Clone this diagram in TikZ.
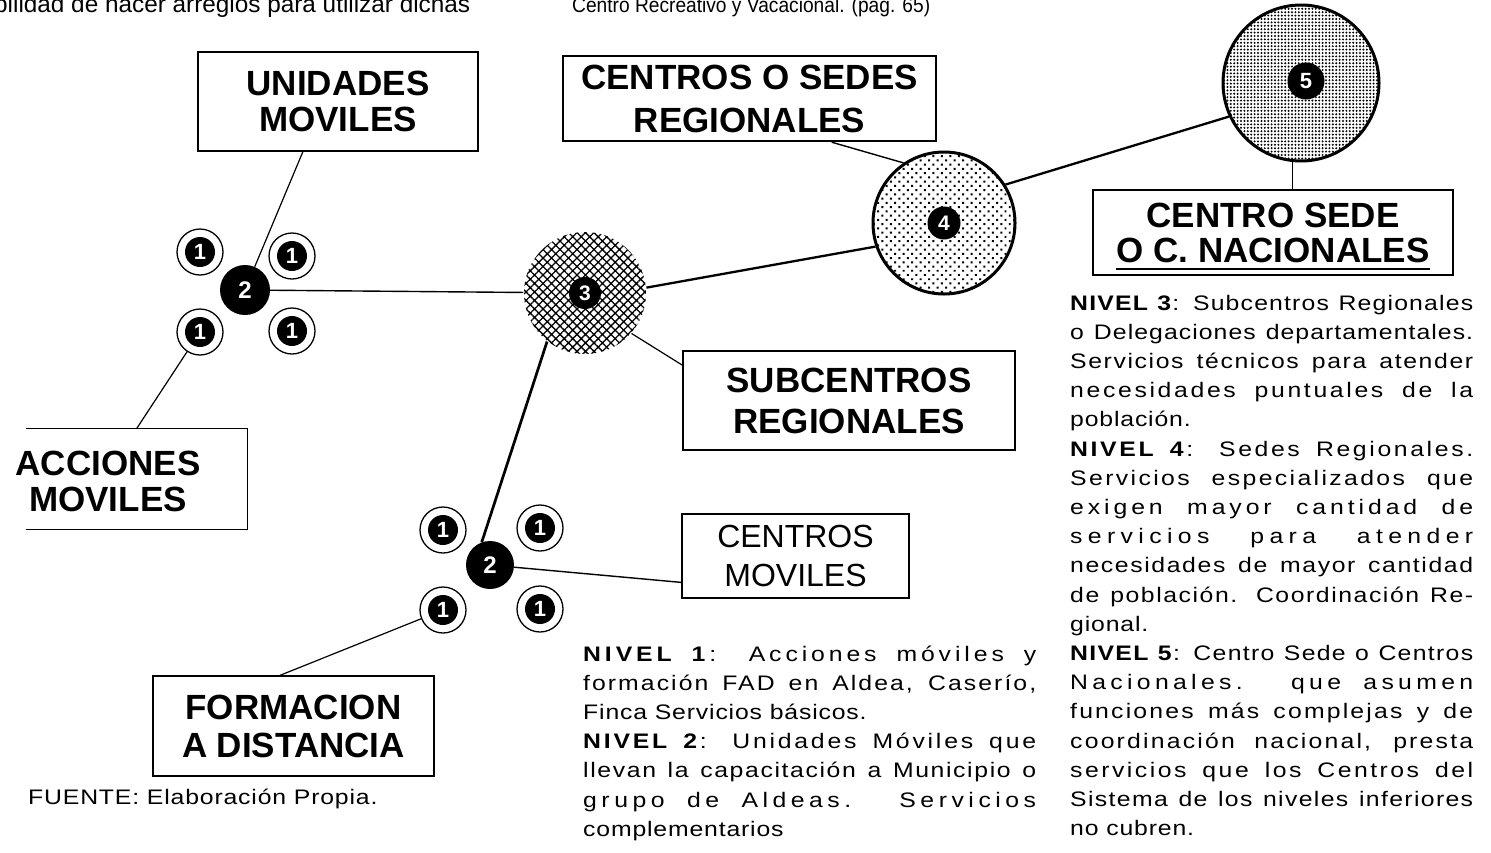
\documentclass[tikz,border=0pt]{standalone}
\usepackage{fontspec}
\setmainfont{Liberation Sans}
\newfontfamily\bodyfont[FakeStretch=1.18,LetterSpace=4]{Liberation Sans}
\usepackage{tikz}
\usetikzlibrary{patterns.meta,backgrounds,calc}

% justified line (letters and spaces both widened), last line of a paragraph, underlined line
\newlength\wone
\newlength\wtwo
\newcommand\jl[1]{{\settowidth{\wone}{#1}%
  \settowidth{\wtwo}{\addfontfeature{LetterSpace=24}#1}%
  \pgfmathsetmacro\lsval{4+0.6*20*(\linewidth-\wone)/(\wtwo-\wone)}%
  \addfontfeature{LetterSpace=\lsval}\makebox[\linewidth][s]{#1}}\par}
\newcommand\el[1]{#1\par}
\newsavebox\ulbox
\newcommand\ulin[1]{\sbox\ulbox{#1}\rlap{\smash{\rule[-8pt]{\wd\ulbox}{2.4pt}}}\usebox\ulbox}

\begin{document}
\begin{tikzpicture}[x=1pt,y=-1pt,
    labelbox/.style={draw, line width=1.3pt, inner sep=0pt, align=center,
      font=\bfseries\fontsize{35}{38}\selectfont},
    ringone/.style={circle, draw, line width=1.3pt, fill=white, minimum size=46pt,
      inner sep=0pt, text=white, font=\bfseries\fontsize{22}{22}\selectfont,
      path picture={\fill[black] (path picture bounding box.center) circle (15pt);}},
    blacknum/.style={circle, fill=black, inner sep=0pt, text=white,
      font=\bfseries\fontsize{24}{24}\selectfont},
    bigcircle/.style={circle, inner sep=0pt, text=white,
      font=\bfseries\fontsize{21}{21}\selectfont},
    thinlink/.style={line width=1.2pt},
    thicklink/.style={line width=2.3pt}]
  % Page frame
  \useasboundingbox (0,0) rectangle (1491,852);
  \clip (0,0) rectangle (1491,852);
  % Text cut off at the top of the page
  \node[anchor=base west, inner sep=0pt, font=\fontsize{24}{26}\selectfont] (prevleft) at (-6,12)
    {\resizebox{476pt}{\height}{bilidad de hacer arreglos para utilizar dichas}};
  \node[anchor=base west, inner sep=0pt, font=\fontsize{21}{26}\selectfont] (prevright) at (572,12)
    {\resizebox{358pt}{\height}{Centro Recreativo y Vacacional. (pag. 65)}};
  % Upper cluster: level 2 with level 1 around it
  \node[blacknum, minimum size=50pt] (u2) at (245,290) {2};
  \node[ringone] (u1a) at (200,252) {1};
  \node[ringone] (u1b) at (292,256) {1};
  \node[ringone] (u1c) at (200,332) {1};
  \node[ringone] (u1d) at (292,331) {1};
  % Lower cluster
  \node[blacknum, minimum size=48pt] (l2) at (490,565) {2};
  \node[ringone] (l1a) at (443,530) {1};
  \node[ringone] (l1b) at (540,528) {1};
  \node[ringone] (l1c) at (443,610) {1};
  \node[ringone] (l1d) at (540,609) {1};
  % Levels 3, 4 and 5
  \node[bigcircle, minimum size=122pt,
    pattern={Hatch[angle=45,distance=6pt,line width=1.3pt]},
    path picture={\fill[black] (path picture bounding box.center) circle (16pt);}] (c3) at (585,293) {3};
  \node[bigcircle, draw, line width=3pt, minimum size=142pt, preaction={fill=white},
    pattern={Dots[angle=45,distance=6pt,radius=1.4pt]},
    path picture={\fill[black] (path picture bounding box.center) circle (16.5pt);}] (c4) at (944,223) {4};
  \node[bigcircle, draw, line width=3pt, minimum size=156pt, preaction={fill=white},
    pattern={Dots[distance=3.4pt,radius=1.1pt]},
    path picture={\fill[black] ([xshift=5pt,yshift=2pt]path picture bounding box.center) circle (18.5pt);}] (c5) at (1301,83) {};
  \node[text=white, inner sep=0pt, font=\bfseries\fontsize{22}{22}\selectfont] (n5) at (1306,81) {5};
  % Label boxes
  \node[labelbox, minimum width=280pt, minimum height=99pt, line width=1.2pt,
    font=\bfseries\fontsize{35}{36}\selectfont] (unid) at (338,101.5) {UNIDADES\\MOVILES};
  \node[labelbox, minimum width=373pt, minimum height=85pt, line width=2.4pt,
    font=\bfseries\fontsize{35}{43}\selectfont] (sedes) at (749.5,98.5) {CENTROS O SEDES\\REGIONALES};
  \node[labelbox, minimum width=360pt, minimum height=85pt, line width=2.4pt,
    font=\bfseries\fontsize{35}{35}\selectfont] (sede) at (1273,232.5) {CENTRO SEDE\\\ulin{O C. NACIONALES}};
  \node[labelbox, minimum width=332pt, minimum height=99pt, line width=1.8pt,
    font=\bfseries\fontsize{35}{41}\selectfont] (subc) at (849,400.5) {SUBCENTROS\\REGIONALES};
  \node[labelbox, minimum width=227pt, minimum height=84pt, line width=1.6pt,
    font=\fontsize{32}{39}\selectfont] (cmov) at (795.5,556) {CENTROS\\MOVILES};
  \node[labelbox, minimum width=281pt, minimum height=100pt] (form) at (293.5,726) {FORMACION\\A DISTANCIA};
  % open box of the mobile actions
  \node[minimum width=221pt, minimum height=100pt, inner sep=0pt] (accbox) at (136.5,479) {};
  \draw[line width=1.3pt] (accbox.north west) -- (accbox.north east) -- (accbox.south east) -- (accbox.south west);
  \node[align=center, inner sep=0pt, font=\bfseries\fontsize{35}{36}\selectfont] (acc) at (108,481) {ACCIONES\\MOVILES};
  % Connectors, behind the circles
  \begin{scope}[on background layer]
    \draw[thinlink] (unid.235) -- (u2);
    \draw[line width=1.4pt] (u2) -- (c3);
    \draw[thinlink] (u1c) -- (accbox.north);
    \draw[thicklink] (c3.5) -- (c4.199);
    \draw[thicklink] (c4.32) -- (c5.205);
    \draw[line width=1.4pt] (sedes.-28) -- (c4.124);
    \draw[line width=1.5pt] (c5.264) -- (c5.264 |- sede.north);
    \draw[thinlink] (c3.-41) -- (subc.168);
    \draw[line width=2.7pt] (c3.232) -- (l2.110);
    \draw[line width=1.4pt] (l2) -- (cmov.193);
    \draw[thinlink] (l1c) -- (form.105);
  \end{scope}
  % Explanation of the levels
  \node[anchor=base west, inner sep=0pt] (niv12) at (583,661) {\parbox[t]{453pt}{%
    \bodyfont\fontsize{21}{29.2}\selectfont
    \jl{\textbf{NIVEL 1}: Acciones móviles y}
    \jl{formación FAD en Aldea, Caserío,}
    \el{Finca Servicios básicos.}
    \jl{\textbf{NIVEL 2}: Unidades Móviles que}
    \jl{llevan la capacitación a Municipio o}
    \jl{grupo de Aldeas. Servicios}
    \el{complementarios}}};
  \node[anchor=base west, inner sep=0pt] (niv345) at (1070,310) {\parbox[t]{403pt}{%
    \bodyfont\fontsize{21}{29.2}\selectfont
    \jl{\textbf{NIVEL 3}: Subcentros Regionales}
    \jl{o Delegaciones departamentales.}
    \jl{Servicios técnicos para atender}
    \jl{necesidades puntuales de la}
    \el{población.}
    \jl{\textbf{NIVEL 4}: Sedes Regionales.}
    \jl{Servicios especializados que}
    \jl{exigen mayor cantidad de}
    \jl{servicios para atender}
    \jl{necesidades de mayor cantidad}
    \jl{de población. Coordinación Re-}
    \el{gional.}
    \jl{\textbf{NIVEL 5}: Centro Sede o Centros}
    \jl{Nacionales. que asumen}
    \jl{funciones más complejas y de}
    \jl{coordinación nacional, presta}
    \jl{servicios que los Centros del}
    \jl{Sistema de los niveles inferiores}
    \el{no cubren.}}};
  % Source
  \node[anchor=base west, inner sep=0pt, font=\bodyfont\fontsize{21}{24}\selectfont] (fuente) at (28,804)
    {FUENTE: Elaboración Propia.};
\end{tikzpicture}
\end{document}
